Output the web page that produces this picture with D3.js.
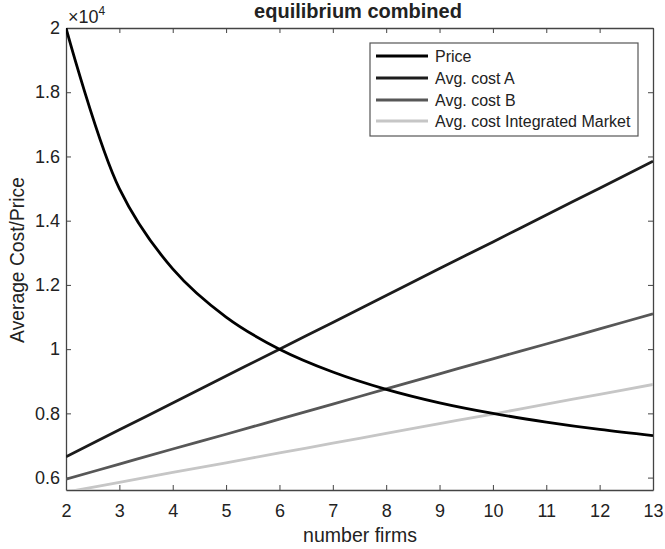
<!DOCTYPE html>
<html>
<head>
<meta charset="utf-8">
<script src="https://cdn.jsdelivr.net/npm/d3@7"></script>
<style>
body { margin:0; background:#fff; }
svg text { font-family: "Liberation Sans", Arial, sans-serif; fill:#222; }
</style>
</head>
<body>
<svg id="chart" width="665" height="549"></svg>
<script>
// values (y in raw units, axis shows x10^4)
var firms = [2,3,4,5,6,7,8,9,10,11,12,13];
var price = [20000,15000,12500,11000,10000,9290,8750,8330,8000,7730,7500,7310];
var costA = [6650,7490,8320,9160,10000,10830,11670,12510,13340,14180,15010,15850];
var costB = [5950,6420,6890,7350,7820,8290,8760,9230,9700,10160,10630,11100];
var costInt = [5550,5850,6160,6460,6770,7070,7380,7680,7980,8290,8590,8900];

var names = ["Price","Avg. cost A","Avg. cost B","Avg. cost Integrated Market"];
var colors = ["#000000","#1c1c1c","#575757","#c6c6c6"];
var xTicks = [2,3,4,5,6,7,8,9,10,11,12,13];
var yTicks = [6000,8000,10000,12000,14000,16000,18000,20000];

var series = [price,costA,costB,costInt];

var svg = d3.select("#chart");
var m = {left:66, right:653, top:28, bottom:490};

var x = d3.scaleLinear().domain([2,13]).range([m.left,m.right]);
var y = d3.scaleLinear().domain([5614,20000]).range([m.bottom,m.top]);

svg.append("defs").append("clipPath").attr("id","clip")
	.append("rect").attr("x",m.left).attr("y",m.top)
	.attr("width",m.right-m.left).attr("height",m.bottom-m.top);

// axes, ticks pointing inward like matlab
var fmt = d => d3.format("~g")(d/10000);
svg.append("g").attr("transform","translate(0,"+m.bottom+")")
	.call(d3.axisBottom(x).tickValues(xTicks).tickSizeInner(-5).tickSizeOuter(0).tickPadding(14));
svg.append("g").attr("transform","translate(0,"+m.top+")")
	.call(d3.axisTop(x).tickValues(xTicks).tickSizeInner(-5).tickSizeOuter(0).tickFormat(""));
svg.append("g").attr("transform","translate("+m.left+",0)")
	.call(d3.axisLeft(y).tickValues(yTicks).tickSizeInner(-5).tickSizeOuter(0).tickPadding(6).tickFormat(fmt));
svg.append("g").attr("transform","translate("+m.right+",0)")
	.call(d3.axisRight(y).tickValues(yTicks).tickSizeInner(-5).tickSizeOuter(0).tickFormat(""));

svg.selectAll(".domain").style("stroke","#444").style("stroke-width",1.3);
svg.selectAll(".tick line").style("stroke","#444");
svg.selectAll(".tick text").style("font-size","18px").style("fill","#222");

// lines
var line = d3.line()
	.x((d,i) => x(firms[i]))
	.y(d => y(d))
	.curve(d3.curveCatmullRom.alpha(0.5));

svg.append("g").attr("clip-path","url(#clip)")
	.selectAll("path.series").data(series.slice().reverse())
	.enter().append("path")
	.attr("class","series")
	.attr("d",line)
	.style("fill","none")
	.style("stroke",(d,i) => colors[colors.length-1-i])
	.style("stroke-width",2.8);

// labels
svg.append("text").attr("x",358).attr("y",18).attr("text-anchor","middle")
	.style("font-weight","bold").style("font-size","20px").text("equilibrium combined");
svg.append("text").attr("x",360).attr("y",542).attr("text-anchor","middle")
	.style("font-size","19.5px").text("number firms");
svg.append("text").attr("transform","translate(24,260) rotate(-90)").attr("text-anchor","middle")
	.style("font-size","19.3px").text("Average Cost/Price");

var exp = svg.append("text").attr("x",68).attr("y",23).style("font-size","18px");
exp.append("tspan").text("\u00d710");
exp.append("tspan").attr("dy",-8).style("font-size","12px").text("4");

// legend
var lg = svg.append("g");
lg.append("rect").attr("x",370).attr("y",43).attr("width",268).attr("height",93)
	.style("fill","#fff").style("stroke","#555").style("stroke-width",1.2);
var rowY = [56,78,100,121];
var items = lg.selectAll("g.item").data(names).enter().append("g").attr("class","item")
	.attr("transform",(d,i) => "translate(0,"+rowY[i]+")");
items.append("line").attr("x1",376).attr("x2",428).attr("y1",0).attr("y2",0)
	.style("stroke",(d,i) => colors[i]).style("stroke-width",2.8);
items.append("text").attr("x",435).attr("y",6).style("font-size","16px").text(d => d);
</script>
</body>
</html>
